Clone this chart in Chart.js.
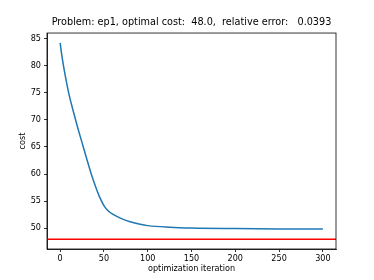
<!DOCTYPE html>
<html>
<head>
<meta charset="utf-8">
<script src="https://cdn.jsdelivr.net/npm/chart.js@4"></script>
<style>
  html, body { margin: 0; padding: 0; background: #fff; }
  canvas { display: block; }
</style>
</head>
<body>
<canvas id="costChart" width="374" height="280"></canvas>
<script>
// values
const iterations = [0, 2, 5, 10, 15, 20, 25, 30, 35, 40, 45, 50, 55, 60, 70, 80, 90, 100, 125, 150, 200, 250, 300];
const costs = [84.2, 81.8, 78.9, 74.8, 71.6, 68.6, 65.8, 63.0, 60.3, 57.9, 55.8, 54.2, 53.2, 52.6, 51.8, 51.2, 50.8, 50.5, 50.2, 50.05, 49.95, 49.9, 49.89];
const optimalCost = 48.0;
const xTicks = [0, 50, 100, 150, 200, 250, 300];
const yTicks = [50, 55, 60, 65, 70, 75, 80, 85];
const xRange = [-15, 315];
const yRange = [46.19, 86.01];

const font = { family: "DejaVu Sans", size: 8.1 };

// matplotlib-style box round the plot area
const frame = {
  id: "frame",
  afterDraw(chart) {
    const { ctx, chartArea: a } = chart;
    ctx.save();
    ctx.strokeStyle = "#000";
    ctx.lineWidth = 0.8;
    ctx.strokeRect(a.left, a.top, a.right - a.left, a.bottom - a.top);
    ctx.restore();
  },
};

new Chart(document.getElementById("costChart"), {
  type: "line",
  data: {
    datasets: [
      {
        data: iterations.map((x, i) => ({ x: x, y: costs[i] })),
        borderColor: "#1f77b4",
        borderWidth: 1.5,
        pointRadius: 0,
        cubicInterpolationMode: "monotone",
      },
      {
        data: xRange.map((x) => ({ x: x, y: optimalCost })),
        borderColor: "#ff0000",
        borderWidth: 1.5,
        pointRadius: 0,
      },
    ],
  },
  options: {
    responsive: false,
    devicePixelRatio: 1,
    animation: false,
    layout: { padding: { left: 9, right: 0, top: 0, bottom: 0 } },
    scales: {
      x: {
        type: "linear",
        min: xRange[0],
        max: xRange[1],
        afterBuildTicks: (s) => { s.ticks = xTicks.map((v) => ({ value: v })); },
        afterFit: (s) => { s.height = 31; },
        grid: { display: true, drawOnChartArea: false, drawTicks: true, tickLength: 3, color: "#000", lineWidth: 0.8 },
        border: { display: true, color: "#000", width: 0.8 },
        ticks: { font: font, color: "#000", padding: 2, maxRotation: 0 },
        title: { display: true, text: "optimization iteration", font: font, color: "#000", padding: { top: 0, bottom: 6 } },
      },
      y: {
        type: "linear",
        min: yRange[0],
        max: yRange[1],
        afterBuildTicks: (s) => { s.ticks = yTicks.map((v) => ({ value: v })); },
        afterFit: (s) => { s.width = 38; },
        grid: { display: true, drawOnChartArea: false, drawTicks: true, tickLength: 3, color: "#000", lineWidth: 0.8 },
        border: { display: true, color: "#000", width: 0.8 },
        ticks: { font: font, color: "#000", padding: 3 },
        title: { display: true, text: "cost", font: font, color: "#000", padding: { top: 9, bottom: 0 } },
      },
      // empty right-hand margin, like the figure space to the right of the axes
      yRight: {
        type: "linear",
        position: "right",
        min: yRange[0],
        max: yRange[1],
        afterFit: (s) => { s.width = 38; },
        grid: { display: false },
        border: { display: false },
        ticks: { display: false },
      },
    },
    plugins: {
      legend: { display: false },
      tooltip: { enabled: false },
      title: {
        display: true,
        text: "Problem: ep1, optimal cost:  48.0,  relative error:   0.0393",
        font: { family: "DejaVu Sans", size: 9.7, weight: "normal" },
        color: "#000",
        padding: { top: 17, bottom: 4.4 },
      },
    },
  },
  plugins: [frame],
});
</script>
</body>
</html>
